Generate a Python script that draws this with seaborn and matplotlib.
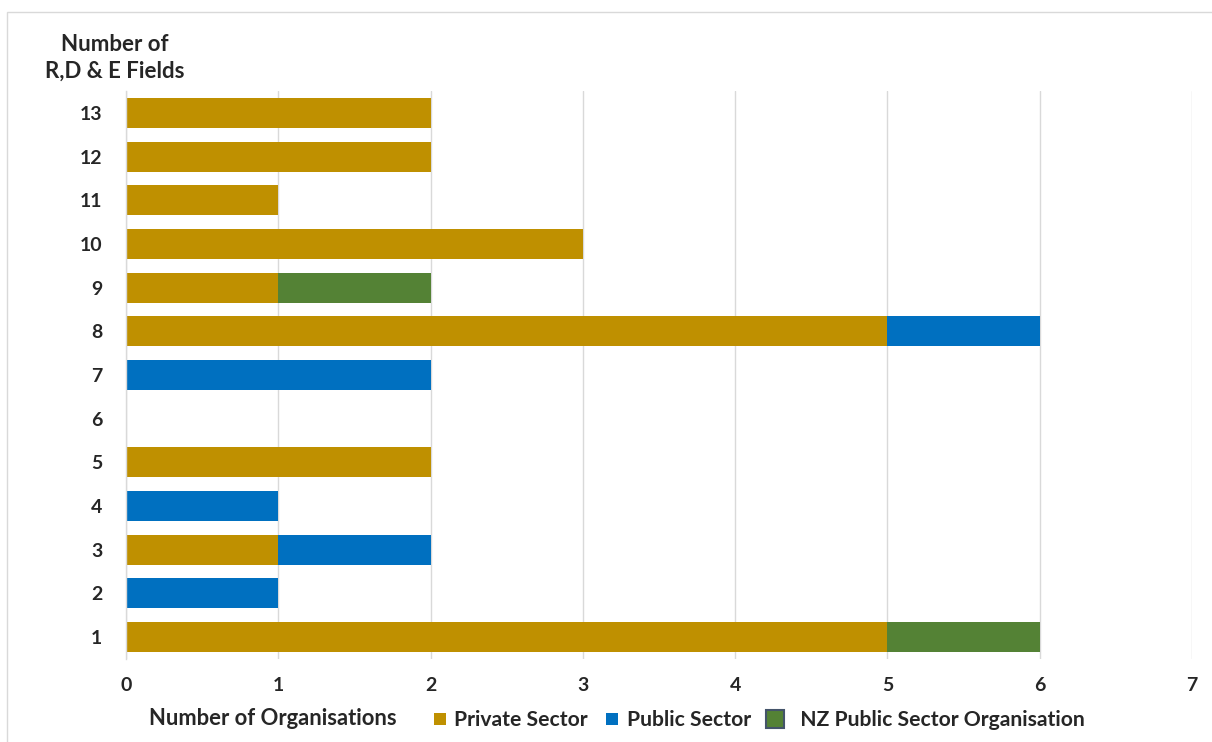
import matplotlib
matplotlib.use("Agg")
import matplotlib.pyplot as plt
import seaborn as sns
import pandas as pd
from matplotlib.lines import Line2D
from matplotlib.patches import Rectangle

fields = [1, 2, 3, 4, 5, 6, 7, 8, 9, 10, 11, 12, 13]
private = [5, 0, 1, 0, 2, 0, 0, 5, 1, 3, 1, 2, 2]
public = [0, 1, 1, 1, 0, 0, 2, 1, 0, 0, 0, 0, 0]
nz_public = [1, 0, 0, 0, 0, 0, 0, 0, 1, 0, 0, 0, 0]
series_names = ["Private Sector", "Public Sector", "  NZ Public Sector Organisation"]
colors = ["#BF9000", "#0070C0", "#548235"]
x_ticks = [0, 1, 2, 3, 4, 5, 6, 7]

sns.set_theme(style="white")
plt.rcParams["font.family"] = ["Lato", "DejaVu Sans"]

df = pd.DataFrame({"field": [str(f) for f in fields],
                   "private": private, "public": public, "nz": nz_public})
df["c1"] = df["private"]
df["c2"] = df["private"] + df["public"]
df["c3"] = df["c2"] + df["nz"]
order = [str(f) for f in fields[::-1]]

fig = plt.figure(figsize=(12.12, 7.42), dpi=100)
ax = fig.add_axes([0.104, 0.112, 0.8795, 0.765])

for col, color in zip(["c3", "c2", "c1"], colors[::-1]):
    sns.barplot(data=df, x=col, y="field", order=order, orient="h",
                color=color, saturation=1, width=0.69, linewidth=0, ax=ax)

ax.set_xlim(0, 7)
ax.set_xticks(x_ticks)
ax.set_xticklabels([str(t) for t in x_ticks], fontsize=14, fontweight="bold")
ax.set_yticklabels(order, fontsize=14, fontweight="bold")
ax.tick_params(axis="x", length=0, pad=13)
ax.tick_params(axis="y", length=0, pad=17)
ax.set_xlabel("")
ax.set_ylabel("")
ax.grid(axis="x", color="#D9D9D9", linewidth=1)
ax.set_axisbelow(True)
for s in ["top", "right", "bottom"]:
    ax.spines[s].set_visible(False)
ax.spines["left"].set_color("#D9D9D9")
ax.spines["left"].set_linewidth(1)

fig.text(0.095, 0.922, "Number of\nR,D & E Fields", ha="center", va="center",
         fontsize=16, fontweight="bold", linespacing=1.35)
fig.text(0.123, 0.031, "Number of Organisations", ha="left", va="center",
         fontsize=15.8, fontweight="bold")

handles = [
    Line2D([], [], marker="s", linestyle="", markersize=8, color=colors[0], markeredgewidth=0),
    Line2D([], [], marker="s", linestyle="", markersize=8, color=colors[1], markeredgewidth=0),
    Line2D([], [], marker="s", linestyle="", markersize=13, color=colors[2],
           markeredgecolor="#44546A", markeredgewidth=1.5),
]
leg = fig.legend(handles, series_names, loc="center left", bbox_to_anchor=(0.340, 0.029),
                 ncol=3, frameon=False, handlelength=0.8, handletextpad=0.3,
                 columnspacing=0.75, prop={"size": 15.2, "weight": "bold"})

fig.add_artist(Rectangle((0.006, -0.01), 1.0, 0.994, transform=fig.transFigure,
                         fill=False, edgecolor="#D9D9D9", linewidth=1))

fig.savefig("out.png", dpi=100, facecolor="white")
